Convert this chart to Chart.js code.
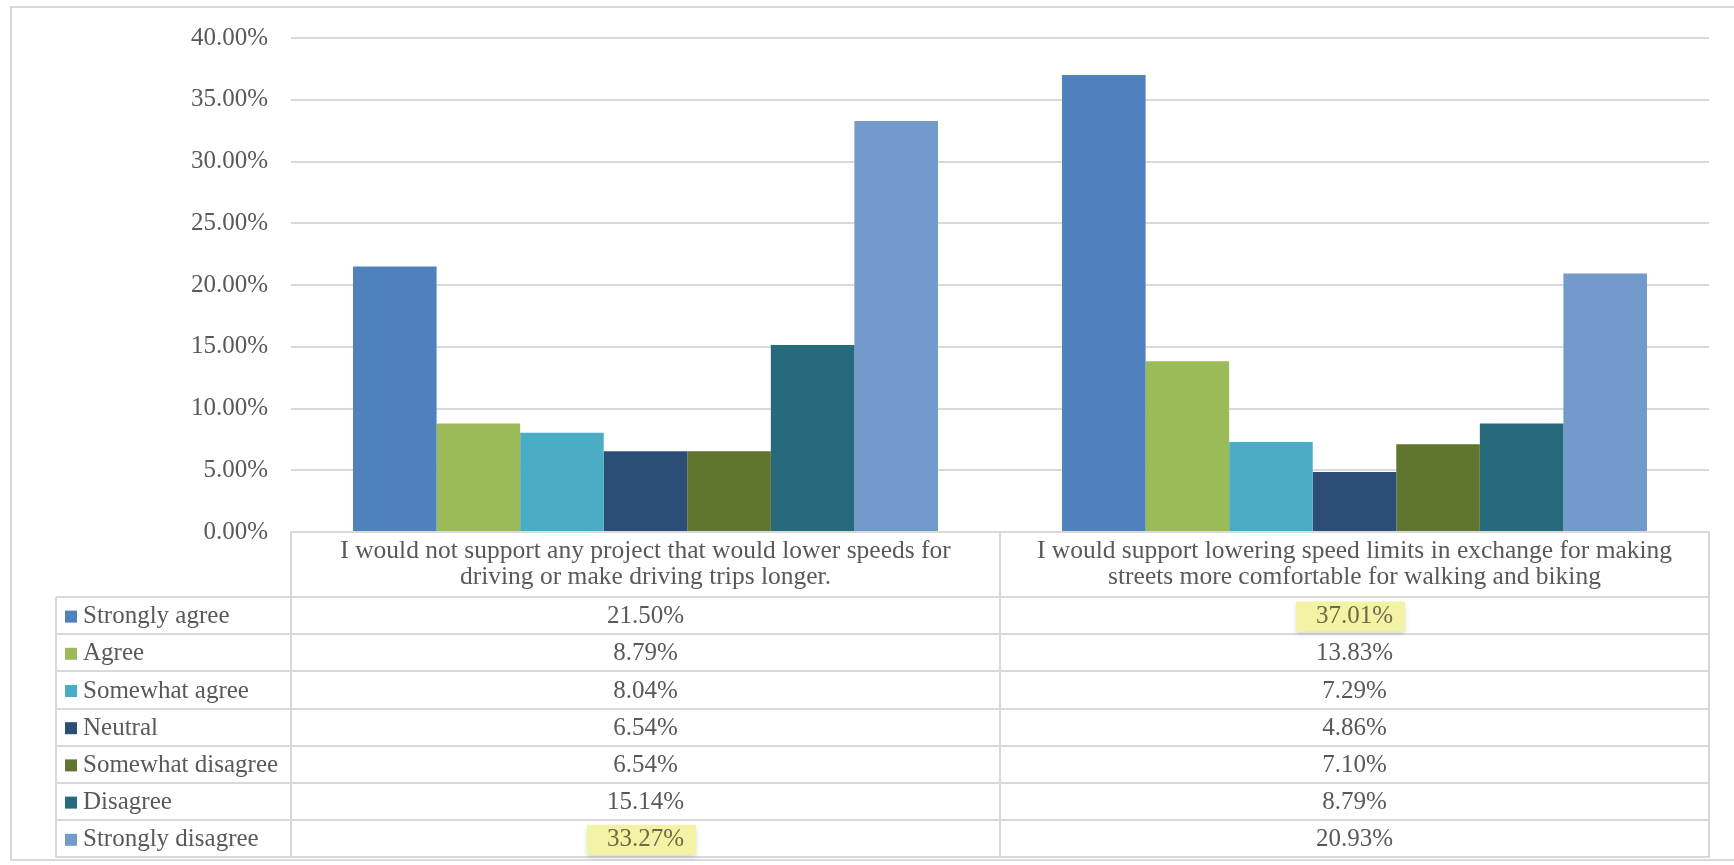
<!DOCTYPE html>
<html>
<head>
<meta charset="utf-8">
<script src="https://cdn.jsdelivr.net/npm/chart.js@4"></script>
<style>
  html, body { margin: 0; padding: 0; background: #fff; }
  #wrap { position: relative; width: 1734px; height: 865px; }
</style>
</head>
<body>
<div id="wrap"><canvas id="survey"></canvas></div>
<script>
// categories (statements)
const statements = [
    ["I would not support any project that would lower speeds for", "driving or make driving trips longer."],
    ["I would support lowering speed limits in exchange for making", "streets more comfortable for walking and biking"]
];
const responses = ["Strongly agree", "Agree", "Somewhat agree", "Neutral", "Somewhat disagree", "Disagree", "Strongly disagree"];
const colors = ["#4F81BD", "#9BBB59", "#4BACC6", "#2C4D75", "#5F7530", "#276A7C", "#729ACA"];

// percent per response, one value per statement
const stronglyAgree = [21.50, 37.01];
const agree = [8.79, 13.83];
const somewhatAgree = [8.04, 7.29];
const neutral = [6.54, 4.86];
const somewhatDisagree = [6.54, 7.10];
const disagree = [15.14, 8.79];
const stronglyDisagree = [33.27, 20.93];

// cells marked yellow in the table: [response index, statement index]
const highlighted = [[6, 0], [0, 1]];

const yTicks = [0, 5, 10, 15, 20, 25, 30, 35, 40];

const series = [stronglyAgree, agree, somewhatAgree, neutral, somewhatDisagree, disagree, stronglyDisagree];

const FONT = "'Liberation Serif', serif";
const TEXT = "#595959";
const LINE = "#d9d9d9";

function pct(v) {
    return v.toFixed(2) + "%";
}

// draws the data table under the plot, from the same arrays
const dataTable = {
    id: 'dataTable',
    afterDraw(chart) {
        const ctx = chart.ctx;
        const area = chart.chartArea;
        const x = chart.scales.x;
        const colW = x.width / statements.length;
        const headerH = 65;
        const rowH = 37.2;
        const tableLeft = 56;
        const top = area.bottom;
        const rowsTop = top + headerH;
        const bottom = rowsTop + rowH * responses.length;

        ctx.save();
        // outer chart border
        ctx.strokeStyle = LINE;
        ctx.lineWidth = 2;
        ctx.strokeRect(11, 7, 1740, 853);

        ctx.beginPath();
        // vertical lines
        for (let i = 0; i <= statements.length; i++) {
            const px = Math.round(area.left + colW * i);
            ctx.moveTo(px, top);
            ctx.lineTo(px, bottom);
        }
        ctx.moveTo(tableLeft, rowsTop);
        ctx.lineTo(tableLeft, bottom);
        // horizontal lines
        for (let r = 0; r <= responses.length; r++) {
            const py = Math.round(rowsTop + rowH * r);
            ctx.moveTo(tableLeft, py);
            ctx.lineTo(area.right, py);
        }
        ctx.stroke();

        ctx.textBaseline = "middle";

        // header text
        ctx.font = "25.5px " + FONT;
        ctx.fillStyle = TEXT;
        ctx.textAlign = "center";
        statements.forEach((lines, i) => {
            const cx = x.getPixelForValue(i);
            lines.forEach((ln, k) => {
                ctx.fillText(ln, cx, top + 19 + k * 26);
            });
        });

        // rows
        ctx.font = "25px " + FONT;
        responses.forEach((name, r) => {
            const cy = rowsTop + rowH * r + rowH / 2 + 1;
            ctx.fillStyle = colors[r];
            ctx.fillRect(65, cy - 6, 12, 12);
            ctx.fillStyle = TEXT;
            ctx.textAlign = "left";
            ctx.fillText(name, 83, cy);

            ctx.textAlign = "center";
            series[r].forEach((v, c) => {
                const cx = x.getPixelForValue(c);
                const label = pct(v);
                const isMarked = highlighted.some(h => h[0] === r && h[1] === c);
                if (isMarked) {
                    const w = ctx.measureText(label).width + 32;
                    ctx.save();
                    ctx.shadowColor = "rgba(0,0,0,0.18)";
                    ctx.shadowBlur = 5;
                    ctx.shadowOffsetY = 2;
                    ctx.fillStyle = "#f3f3a6";
                    ctx.fillRect(cx - w / 2 - 4, cy - 15, w, 30);
                    ctx.restore();
                    ctx.fillStyle = "#6b6b45";
                } else {
                    ctx.fillStyle = TEXT;
                }
                ctx.fillText(label, cx, cy);
            });
        });
        ctx.restore();
    }
};

const datasets = responses.map((name, i) => ({
    label: name,
    data: series[i],
    backgroundColor: colors[i],
    borderWidth: 0,
    barPercentage: 1.0,
    categoryPercentage: 0.825
}));

const config = {
    type: 'bar',
    data: {
        labels: statements.map(s => s.join(" ")),
        datasets: datasets
    },
    options: {
        responsive: true,
        maintainAspectRatio: false,
        animation: false,
        layout: {
            padding: { left: 10, right: 25, top: 36, bottom: 333 }
        },
        plugins: {
            legend: { display: false },
            tooltip: { enabled: false }
        },
        scales: {
            x: {
                ticks: { display: false },
                grid: { display: false, drawTicks: false },
                border: { display: true, color: LINE, width: 2 },
                afterFit(scale) { scale.height = 0; }
            },
            y: {
                min: yTicks[0],
                max: yTicks[yTicks.length - 1],
                afterBuildTicks(scale) {
                    scale.ticks = yTicks.map(v => ({ value: v }));
                },
                afterFit(scale) { scale.width = 281; },
                ticks: {
                    padding: 23,
                    color: TEXT,
                    font: { family: FONT, size: 25 },
                    callback: v => pct(v)
                },
                grid: { color: LINE, lineWidth: 2, drawTicks: false },
                border: { display: false }
            }
        }
    },
    plugins: [dataTable]
};

const myChart = new Chart(document.getElementById('survey'), config);
</script>
</body>
</html>
